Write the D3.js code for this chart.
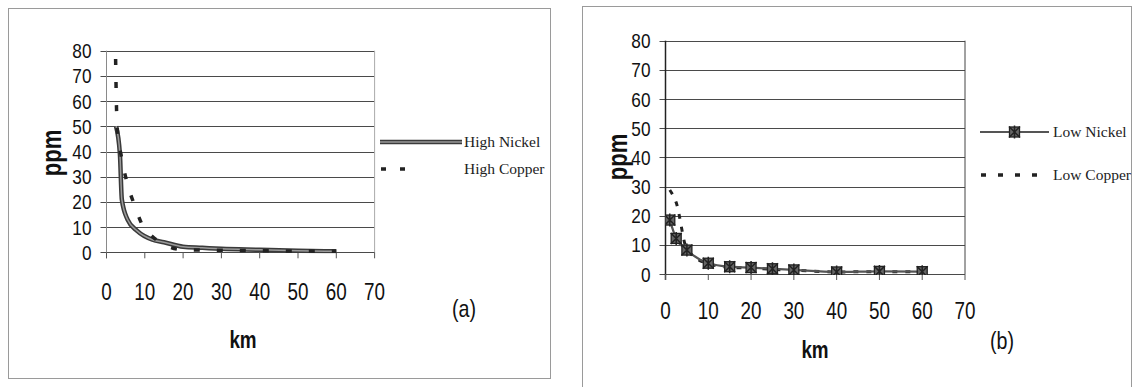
<!DOCTYPE html>
<html>
<head>
<meta charset="utf-8">
<script src="https://cdn.jsdelivr.net/npm/d3@7"></script>
<style>
  body { margin: 0; background: #fff; }
  svg { display: block; }
  .narrow { font-family: "Liberation Sans", Arial, sans-serif; fill: #111; }
  .legend-text { font-family: "Liberation Serif", "Times New Roman", serif; font-size: 15.5px; fill: #222; }
</style>
</head>
<body>
<div id="chart"></div>
<script>
// shared axis ticks
const yTicks = [0, 10, 20, 30, 40, 50, 60, 70, 80];
const xTicks = [0, 10, 20, 30, 40, 50, 60, 70];

// (a) high concentration
const highNickelKm = [2.5, 3.5, 4, 5.5, 8, 12, 15, 20, 25, 30, 40, 50, 60];
const highNickelPpm = [50, 39, 21, 13, 8.5, 5, 4, 2.2, 1.8, 1.4, 1.0, 0.6, 0.4];
const highCopperKm = [2.2, 2.8, 3.8, 5.3, 7.3, 10.2, 20, 30, 40, 50, 60];
const highCopperPpm = [95, 49, 38.6, 28, 18.8, 8.8, 1, 0.8, 0.6, 0.5, 0.4];

// (b) low concentration
const lowKm = [1, 2.5, 5, 10, 15, 20, 25, 30, 40, 50, 60];
const lowNickelPpm = [18.5, 12.2, 8.2, 3.7, 2.5, 2.2, 1.8, 1.4, 0.7, 0.9, 0.8];
const lowCopperPpm = [28.8, 24.5, 8.5, 3.5, 2.3, 2, 1.6, 1.3, 0.7, 0.8, 0.7];

const NARROW = 0.82; // fake Arial Narrow

const svg = d3.select('#chart').append('svg')
  .attr('width', 1132).attr('height', 387);

function zip(xs, ys) { return xs.map((x, i) => ({ km: x, ppm: ys[i] })); }

// narrow text helper
function ntext(g, x, y, txt, size, opts) {
  opts = opts || {};
  let tr = `translate(${x},${y})`;
  if (opts.rotate) tr += ` rotate(${opts.rotate})`;
  tr += ` scale(${NARROW},1)`;
  return g.append('text').attr('class', 'narrow')
    .attr('transform', tr)
    .attr('text-anchor', opts.anchor || 'middle')
    .attr('dy', opts.dy || null)
    .style('font-size', size + 'px')
    .style('font-weight', opts.bold ? 'bold' : null)
    .text(txt);
}

const panels = [
  {
    frame: [8, 8, 550, 378],
    plot: { left: 106.5, right: 374.6, top: 50.7, bottom: 252.3 },
    axisColor: '#8a8a8a', borderColor: '#aaa',
    xLabelY: 300, kmPos: [243, 348], tagPos: [464, 317], tag: '(a)',
    ppmPos: [52, 153],
    nickel: zip(highNickelKm, highNickelPpm), copper: zip(highCopperKm, highCopperPpm),
    markers: false,
    legend: { x0: 380, x1: 462, textX: 464, y1: 142, y2: 169, dashEnd: 418,
              names: ['High Nickel', 'High Copper'] }
  },
  {
    frame: [582, 6, 1131, 400],
    plot: { left: 665.5, right: 965, top: 40.7, bottom: 274 },
    axisColor: '#222', borderColor: '#444',
    xLabelY: 318.5, kmPos: [815, 358], tagPos: [1002, 349], tag: '(b)',
    ppmPos: [618, 157],
    nickel: zip(lowKm, lowNickelPpm), copper: zip(lowKm, lowCopperPpm),
    markers: true,
    legend: { x0: 980, x1: 1049, textX: 1053, y1: 132, y2: 175, dashEnd: 1040,
              names: ['Low Nickel', 'Low Copper'] }
  }
];

panels.forEach((p, idx) => {
  const g = svg.append('g');
  const f = p.frame;

  // outer frame
  g.append('rect')
    .attr('x', f[0] + 0.5).attr('y', f[1] + 0.5)
    .attr('width', f[2] - f[0]).attr('height', f[3] - f[1])
    .attr('fill', 'none').attr('stroke', '#9a9a9a').attr('stroke-width', 1);

  const x = d3.scaleLinear().domain([0, 70]).range([p.plot.left, p.plot.right]);
  const y = d3.scaleLinear().domain([0, 80]).range([p.plot.bottom, p.plot.top]);

  // gridlines
  g.selectAll('.grid').data(yTicks).enter().append('line')
    .attr('x1', p.plot.left - 6).attr('x2', p.plot.right)
    .attr('y1', d => Math.round(y(d)) + 0.5).attr('y2', d => Math.round(y(d)) + 0.5)
    .attr('stroke', '#4a4a4a').attr('stroke-width', 1);

  // right border of plot area
  g.append('line')
    .attr('x1', p.plot.right).attr('x2', p.plot.right)
    .attr('y1', y(80)).attr('y2', y(0))
    .attr('stroke', p.borderColor).attr('stroke-width', 1);

  // y axis line
  g.append('line')
    .attr('x1', p.plot.left).attr('x2', p.plot.left)
    .attr('y1', y(80)).attr('y2', y(0) + 6)
    .attr('stroke', p.axisColor).attr('stroke-width', idx ? 1.5 : 1);

  // x ticks
  g.selectAll('.xt').data(xTicks).enter().append('line')
    .attr('x1', d => x(d)).attr('x2', d => x(d))
    .attr('y1', y(0)).attr('y2', y(0) + 6)
    .attr('stroke', '#555');

  // tick labels
  yTicks.forEach(d => ntext(g, p.plot.left - 15, y(d), d, 21, { anchor: 'end', dy: '0.36em' }));
  xTicks.forEach(d => ntext(g, x(d), p.xLabelY, d, 23));

  // titles
  ntext(g, p.kmPos[0], p.kmPos[1], 'km', 23, { bold: true });
  ntext(g, p.ppmPos[0], p.ppmPos[1], 'ppm', 27, { bold: true, rotate: -90, dy: '0.35em' });
  ntext(g, p.tagPos[0], p.tagPos[1], p.tag, 24);

  // clip for series
  const clipId = 'clip' + idx;
  svg.append('clipPath').attr('id', clipId).append('rect')
    .attr('x', p.plot.left).attr('y', p.plot.top - 1)
    .attr('width', p.plot.right - p.plot.left).attr('height', p.plot.bottom - p.plot.top + 2);

  const line = d3.line().x(d => x(d.km)).y(d => y(d.ppm)).curve(d3.curveMonotoneX);
  const series = g.append('g').attr('clip-path', `url(#${clipId})`);

  if (!p.markers) {
    series.append('path').datum(p.nickel).attr('d', line)
      .attr('fill', 'none').attr('stroke', '#3a3a3a').attr('stroke-width', 4.5);
    series.append('path').datum(p.nickel).attr('d', line)
      .attr('fill', 'none').attr('stroke', '#9a9a9a').attr('stroke-width', 1.5);
    series.append('path').datum(p.copper).attr('d', line)
      .attr('fill', 'none').attr('stroke', '#222').attr('stroke-width', 3.5)
      .attr('stroke-dasharray', '6,17');
  } else {
    series.append('path').datum(p.copper).attr('d', line)
      .attr('fill', 'none').attr('stroke', '#222').attr('stroke-width', 3)
      .attr('stroke-dasharray', '5,8');
    series.append('path').datum(p.nickel).attr('d', line)
      .attr('fill', 'none').attr('stroke', '#555').attr('stroke-width', 2.2);
    const mk = series.selectAll('.mk').data(p.nickel).enter().append('g')
      .attr('transform', d => `translate(${x(d.km)},${y(d.ppm)})`);
    drawMarker(mk);
  }

  // legend
  const L = p.legend;
  if (!p.markers) {
    g.append('line').attr('x1', L.x0).attr('x2', L.x1).attr('y1', L.y1).attr('y2', L.y1)
      .attr('stroke', '#3a3a3a').attr('stroke-width', 4.5);
    g.append('line').attr('x1', L.x0).attr('x2', L.x1).attr('y1', L.y1).attr('y2', L.y1)
      .attr('stroke', '#9a9a9a').attr('stroke-width', 1.5);
  } else {
    g.append('line').attr('x1', L.x0).attr('x2', L.x1).attr('y1', L.y1).attr('y2', L.y1)
      .attr('stroke', '#555').attr('stroke-width', 2.2);
    const lm = g.append('g').attr('transform', `translate(${(L.x0 + L.x1) / 2},${L.y1})`);
    drawMarker(lm);
  }
  g.append('line').attr('x1', L.x0 + 1).attr('x2', L.dashEnd).attr('y1', L.y2).attr('y2', L.y2)
    .attr('stroke', '#222').attr('stroke-width', 3.5)
    .attr('stroke-dasharray', p.markers ? '5,12' : '5,14');
  g.append('text').attr('class', 'legend-text')
    .attr('x', L.textX).attr('y', L.y1 + 5).text(L.names[0]);
  g.append('text').attr('class', 'legend-text')
    .attr('x', L.textX).attr('y', L.y2 + 5).text(L.names[1]);
});

function drawMarker(sel) {
  sel.append('rect').attr('x', -5).attr('y', -5).attr('width', 10).attr('height', 10)
    .attr('fill', '#666').attr('stroke', '#222').attr('stroke-width', 1.3);
  sel.append('path').attr('d', 'M-5.5,-5.5L5.5,5.5M-5.5,5.5L5.5,-5.5M0,-6.5V6.5')
    .attr('stroke', '#222').attr('stroke-width', 1.5);
}
</script>
</body>
</html>
